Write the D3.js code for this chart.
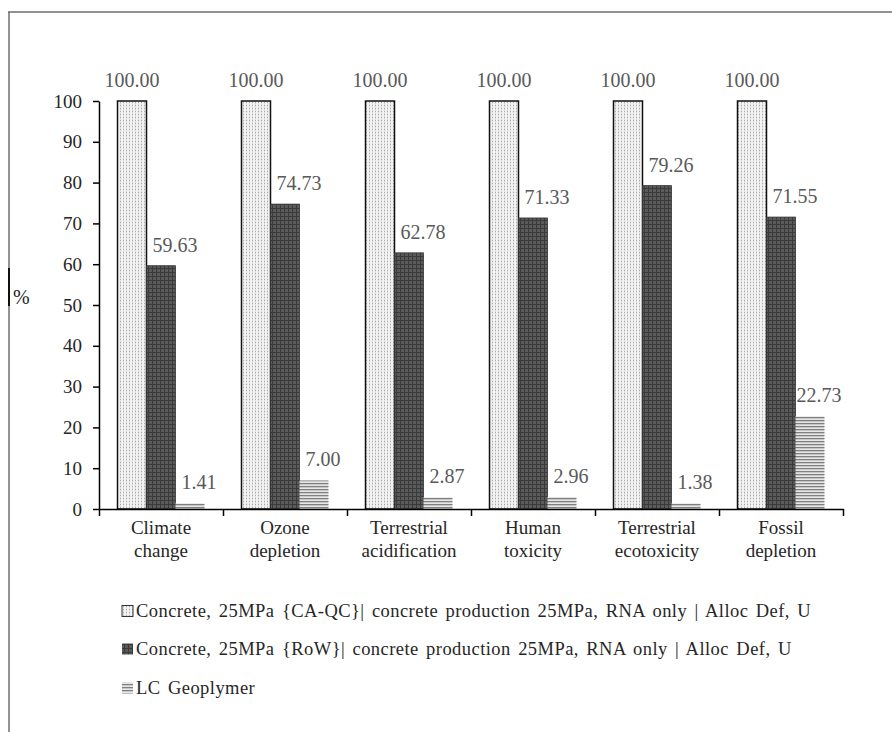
<!DOCTYPE html>
<html><head><meta charset="utf-8">
<script src="https://cdn.jsdelivr.net/npm/d3@7"></script>
<style>
html,body{margin:0;padding:0;background:#fff;}
svg{display:block;font-family:"Liberation Serif","Times New Roman",serif;}
</style></head>
<body>
<svg id="chart" width="892" height="732"></svg>
<script>
const categories = ["Climate\nchange","Ozone\ndepletion","Terrestrial\nacidification","Human\ntoxicity","Terrestrial\necotoxicity","Fossil\ndepletion"];
const seriesNames = [
  "Concrete, 25MPa {CA-QC}| concrete production 25MPa, RNA only | Alloc Def, U",
  "Concrete, 25MPa {RoW}| concrete production 25MPa, RNA only | Alloc Def, U",
  "LC Geoplymer"
];
const caqcValues = [100, 100, 100, 100, 100, 100];
const rowValues = [59.63, 74.73, 62.78, 71.33, 79.26, 71.55];
const geoValues = [1.41, 7.00, 2.87, 2.96, 1.38, 22.73];
const yTicks = [0,10,20,30,40,50,60,70,80,90,100];
const yTitle = "%";

(function(){
const seriesValues = [caqcValues, rowValues, geoValues];
const svg = d3.select("#chart");
const defs = svg.append("defs");

const p1 = defs.append("pattern").attr("id","pat0").attr("patternUnits","userSpaceOnUse").attr("width",3).attr("height",3);
p1.append("rect").attr("width",3).attr("height",3).attr("fill","#f2f2f2");
p1.append("rect").attr("x",0).attr("y",0).attr("width",1).attr("height",1).attr("fill","#a8a8a8");
p1.append("rect").attr("x",0).attr("y",1.5).attr("width",1).attr("height",1).attr("fill","#c8c8c8");

const p2 = defs.append("pattern").attr("id","pat1").attr("patternUnits","userSpaceOnUse").attr("width",4).attr("height",4);
p2.append("rect").attr("width",4).attr("height",4).attr("fill","#5a5a5a");
p2.append("rect").attr("x",0).attr("y",0).attr("width",4).attr("height",1).attr("fill","#3a3a3a");
p2.append("rect").attr("x",0).attr("y",0).attr("width",1).attr("height",4).attr("fill","#3a3a3a");

const p3 = defs.append("pattern").attr("id","pat2").attr("patternUnits","userSpaceOnUse").attr("width",4).attr("height",3);
p3.append("rect").attr("width",4).attr("height",3).attr("fill","#e6e6e6");
p3.append("rect").attr("x",0).attr("y",0).attr("width",4).attr("height",1.3).attr("fill","#7f7f7f");

const fills = ["url(#pat0)","url(#pat1)","url(#pat2)"];
const strokes = ["#111","#333","none"];
const labelDx = [0, 14, 9];

svg.append("line").attr("x1",8).attr("x2",892).attr("y1",12).attr("y2",12).attr("stroke","#6e6e6e").attr("stroke-width",1.5);
svg.append("line").attr("x1",9).attr("x2",9).attr("y1",12).attr("y2",732).attr("stroke","#6e6e6e").attr("stroke-width",1.5);
svg.append("line").attr("x1",9).attr("x2",9).attr("y1",268).attr("y2",306).attr("stroke","#111").attr("stroke-width",2);

const pLeft = 99, pRight = 843, pTop = 101, pBottom = 509;
const x = d3.scaleBand().domain(categories).range([pLeft,pRight]).paddingInner(0).paddingOuter(0);
const xInner = d3.scaleBand().domain([0,1,2]).range([0,x.bandwidth()]).paddingInner(0).paddingOuter(0.638);
const y = d3.scaleLinear().domain([0,100]).range([pBottom,pTop]);

seriesValues.forEach((vals,si)=>{
  const g = svg.append("g");
  g.selectAll("rect").data(vals).join("rect")
    .attr("x",(d,i)=>x(categories[i])+xInner(si))
    .attr("y",d=>y(d))
    .attr("width",xInner.bandwidth())
    .attr("height",d=>y(0)-y(d))
    .attr("fill",fills[si])
    .attr("stroke",strokes[si])
    .attr("stroke-width",si===0?1.5:0.8);
  g.selectAll("text").data(vals).join("text")
    .attr("x",(d,i)=>x(categories[i])+xInner(si)+xInner.bandwidth()/2+labelDx[si])
    .attr("y",d=>y(d)-14)
    .attr("text-anchor","middle")
    .attr("font-size","20px")
    .attr("fill","#595959")
    .text(d=>d.toFixed(2));
});

const yAxis = svg.append("g").attr("transform",`translate(${pLeft},0)`)
  .call(d3.axisLeft(y).tickValues(yTicks).tickSize(6).tickSizeOuter(0).tickPadding(11));
yAxis.select(".domain").attr("stroke","#000").attr("stroke-width",1.5);
yAxis.selectAll(".tick line").attr("stroke","#000").attr("stroke-width",1.5);
yAxis.selectAll(".tick text").attr("font-size","19px").attr("fill","#262626").attr("font-family","Liberation Serif, serif");

const xb = d3.scaleLinear().domain([0,categories.length]).range([pLeft,pRight]);
const xAxis = svg.append("g").attr("transform",`translate(0,${pBottom})`)
  .call(d3.axisBottom(xb).tickValues(d3.range(categories.length+1)).tickSize(7).tickSizeOuter(0).tickFormat(""));
xAxis.select(".domain").attr("stroke","#000").attr("stroke-width",1.5);
xAxis.selectAll(".tick line").attr("stroke","#000").attr("stroke-width",1.5);

categories.forEach(c=>{
  const lines = c.split("\n");
  const t = svg.append("text").attr("text-anchor","middle").attr("font-size","19px").attr("fill","#262626");
  lines.forEach((ln,li)=>{
    t.append("tspan").attr("x",x(c)+x.bandwidth()/2).attr("y",534+li*23).text(ln);
  });
});

svg.append("text").attr("x",13).attr("y",304).attr("font-size","20px").attr("fill","#262626").text(yTitle);

const legY = [611, 649, 688];
seriesNames.forEach((n,i)=>{
  const s = 11;
  svg.append("rect").attr("x",122).attr("y",legY[i]-s/2).attr("width",s).attr("height",s)
    .attr("fill",fills[i]).attr("stroke",i===0?"#333":"none").attr("stroke-width",1);
  svg.append("text").attr("x",136).attr("y",legY[i]+6).attr("font-size","18.5px")
    .attr("letter-spacing","0.45px").attr("word-spacing","2.3px").attr("fill","#262626").text(n);
});
})();
</script>
</body></html>
